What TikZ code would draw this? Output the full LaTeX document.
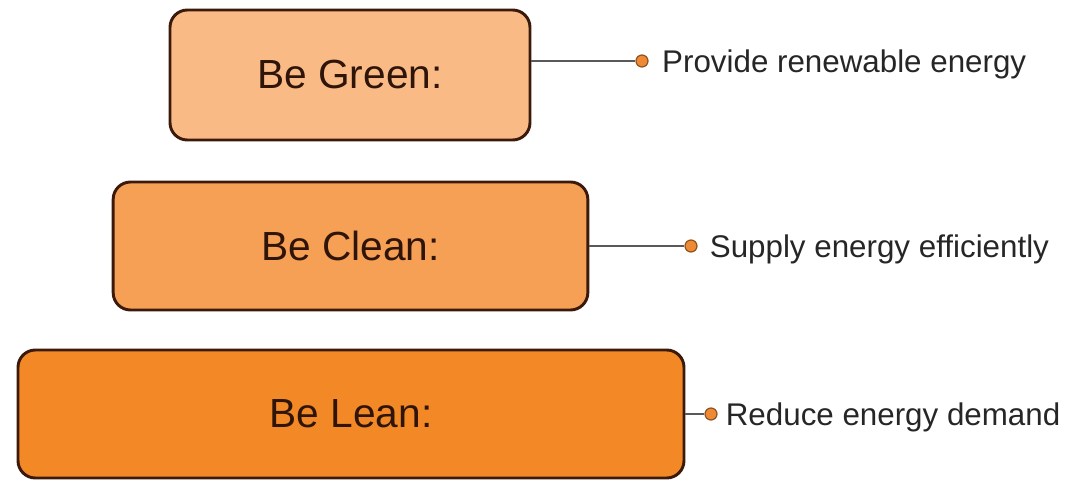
\documentclass[tikz,border=0pt]{standalone}
\usepackage{fontspec}
\setmainfont{Liberation Sans}
\usetikzlibrary{positioning}

\definecolor{verdeclaro}{HTML}{F9BA86}
\definecolor{limpio}{HTML}{F6A055}
\definecolor{magro}{HTML}{F38826}
\definecolor{borde}{HTML}{3B1A0B}
\definecolor{puntonaranja}{HTML}{EE8A35}

\tikzset{
  caja/.style={draw=borde, line width=2.2pt, rounded corners=13pt,
    inner sep=0pt, text=borde!80!black, font=\fontsize{30.5}{36}\selectfont},
  punto/.style={circle, fill=puntonaranja, draw=puntonaranja!60!black,
    line width=0.9pt, inner sep=0pt, minimum size=9pt},
  enlace/.style={draw=black!65, line width=1pt},
  etiqueta/.style={inner sep=0pt, text depth=0pt, text=black!85,
    font=\fontsize{23.5}{28}\selectfont}
}

\begin{document}
\begin{tikzpicture}[x=0.75pt, y=-0.75pt]
      \useasboundingbox (0,0) rectangle (1068,481);

      % Cajas
      \node[caja, fill=verdeclaro, minimum width=270pt, minimum height=97.5pt]
        (verde) at (350,75) {Be Green:};
      \node[caja, fill=limpio, minimum width=356pt, minimum height=96pt]
        (limpia) at (350.5,246) {Be Clean:};
      \node[caja, fill=magro, minimum width=499.5pt, minimum height=96pt]
        (magra) at (351,414) {Be Lean:};

      % Puntos
      \node[punto] (pverde) at (642,61) {};
      \node[punto] (plimpia) at (691,246) {};
      \node[punto] (pmagra) at (711,414) {};

      % Enlaces
      \draw[enlace] (verde.east |- pverde) -- (pverde);
      \draw[enlace] (limpia.east |- plimpia) -- (plimpia);
      \draw[enlace] (magra.east |- pmagra) -- (pmagra);

      % Etiquetas
      \node[etiqueta, right=10pt of pverde] (everde) {Provide renewable energy};
      \node[etiqueta, right=9pt of plimpia] (elimpia) {Supply energy efficiently};
      \node[etiqueta, right=6pt of pmagra] (emagra) {Reduce energy demand};
\end{tikzpicture}
\end{document}
